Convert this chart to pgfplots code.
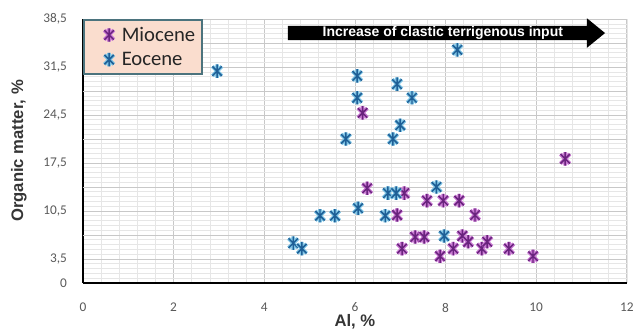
\documentclass[border=0pt]{standalone}
\usepackage{pgfplots}
\pgfplotsset{compat=1.18}
\usepackage{fontspec}
\setmainfont{Carlito}
\newfontfamily\arialf{Liberation Sans}
\definecolor{eolight}{RGB}{125,195,228}
\definecolor{eodark}{RGB}{30,95,150}
\definecolor{milight}{RGB}{200,120,210}
\definecolor{midark}{RGB}{105,35,125}
\definecolor{legfill}{RGB}{250,221,206}
\definecolor{legborder}{RGB}{75,115,125}
\definecolor{ticktext}{RGB}{89,89,89}
\pgfdeclareplotmark{xstar}{%
  \pgfpathmoveto{\pgfqpoint{0pt}{\pgfplotmarksize}}\pgfpathlineto{\pgfqpoint{0pt}{-\pgfplotmarksize}}%
  \pgfpathmoveto{\pgfpointpolar{45}{\pgfplotmarksize}}\pgfpathlineto{\pgfpointpolar{225}{\pgfplotmarksize}}%
  \pgfpathmoveto{\pgfpointpolar{135}{\pgfplotmarksize}}\pgfpathlineto{\pgfpointpolar{315}{\pgfplotmarksize}}%
  \pgfusepathqstroke}
\pgfdeclareplotmark{eocmark}{%
  \pgfsetlinewidth{2.8pt}\pgfsetstrokecolor{eolight}\pgfuseplotmark{xstar}%
  \pgfsetlinewidth{1.1pt}\pgfsetstrokecolor{eodark}\pgfuseplotmark{xstar}}
\pgfdeclareplotmark{mimark}{%
  \pgfsetlinewidth{2.8pt}\pgfsetstrokecolor{milight}\pgfuseplotmark{xstar}%
  \pgfsetlinewidth{1.1pt}\pgfsetstrokecolor{midark}\pgfuseplotmark{xstar}}
\begin{document}
\begin{tikzpicture}
\begin{axis}[
  scale only axis, width=408pt, height=198pt,
  xmin=0, xmax=12, ymin=0, ymax=38.5,
  xtick={0,2,...,12},
  ytick={0,3.5,10.5,17.5,24.5,31.5,38.5},
  yticklabels={0,{3,5},{10,5},{17,5},{24,5},{31,5},{38,5}},
  extra y ticks={7,14,21,28,35},
  extra y tick labels={},
  extra y tick style={grid=major, major tick length=0pt},
  minor xtick={0,0.4,...,12},
  minor ytick={0,0.7,...,38.5},
  grid=both,
  major grid style={draw={rgb,255:red,200;green,200;blue,200}, line width=0.5pt},
  minor grid style={draw={rgb,255:red,230;green,230;blue,230}, line width=0.4pt},
  major tick length=0pt, minor tick length=0pt,
  axis lines*=left,
  axis line style={line width=1.5pt, black},
  /pgf/number format/assume math mode=true,
  tick label style={font=\fontsize{10}{12}\selectfont, text=ticktext},
  x tick label style={yshift=-11.5pt},
  y tick label style={xshift=-8.5pt},
  xlabel={\arialf\bfseries Al, \%},
  ylabel={\arialf\bfseries Organic matter, \%},
  label style={font=\fontsize{12.5}{14}\selectfont, text=ticktext!60!black},
  xlabel style={at={(axis description cs:0.5,-0.148)}, anchor=center},
  ylabel style={at={(axis description cs:-0.118,0.5)}, anchor=center},
  clip=false,
  legend cell align=left,
  legend image code/.code={\path (0pt,0pt) (21.7pt,0pt); \draw[#1] plot coordinates {(15pt,0pt)};},
  legend style={at={(axis description cs:0.0,1.0)}, anchor=north west,
    fill=legfill, draw=legborder, line width=1.6pt,
    font=\fontsize{15.5}{17}\selectfont,
    inner xsep=3pt, inner ysep=2.5pt, row sep=1.5pt,
    nodes={text=black!85, inner ysep=2.6pt}},
]
\addplot[only marks, mark=mimark, mark size=5pt] table {
6.17 24.8
10.64 18.1
6.27 13.8
7.09 13.1
7.59 12.0
7.95 12.0
8.30 12.0
8.65 9.9
6.93 9.9
7.33 6.7
7.53 6.7
7.04 5.0
8.37 6.85
8.50 6.0
8.17 5.0
7.88 3.9
8.80 5.0
8.92 6.0
9.40 5.0
9.93 3.9
};
\addlegendentry{Miocene}
\addplot[only marks, mark=eocmark, mark size=5pt] table {
2.96 30.9
8.26 34.0
6.05 30.2
6.05 27.0
6.93 29.0
7.26 27.0
7.00 23.0
5.80 21.0
6.84 21.0
7.80 14.0
6.73 13.1
6.91 13.1
6.07 10.9
5.23 9.8
5.56 9.8
6.67 9.8
4.64 5.8
4.83 5.0
7.97 6.85
};
\addlegendentry{Eocene}
\fill[black] (axis cs:4.52,37.5) -- (axis cs:11.12,37.5) -- (axis cs:11.12,38.6)
  -- (axis cs:11.52,36.45) -- (axis cs:11.12,34.3) -- (axis cs:11.12,35.4)
  -- (axis cs:4.52,35.4) -- cycle;
\node[text=white, font=\arialf\bfseries\fontsize{10.5}{11}\selectfont] at (axis cs:7.94,36.45) {Increase of clastic terrigenous input};
\end{axis}
\path (-62.25pt,-39pt) rectangle (416.25pt,212.25pt);
\end{tikzpicture}
\end{document}
